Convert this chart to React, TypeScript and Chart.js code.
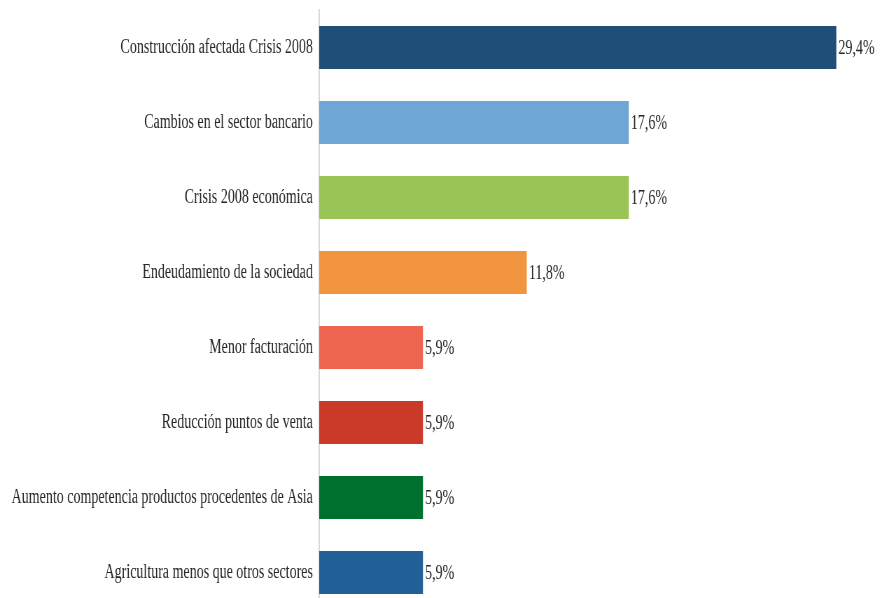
import React, { useEffect, useRef } from "react";
import { Chart, registerables } from "chart.js";

Chart.register(...registerables);

const categories = [
  "Construcción afectada Crisis 2008",
  "Cambios en el sector bancario",
  "Crisis 2008 económica",
  "Endeudamiento de la sociedad",
  "Menor facturación",
  "Reducción puntos de venta",
  "Aumento competencia productos procedentes de Asia",
  "Agricultura menos que otros sectores",
];

const values = [29.4, 17.6, 17.6, 11.8, 5.9, 5.9, 5.9, 5.9];

const barColors = [
  "#1f4e79",
  "#6fa6d5",
  "#9bc456",
  "#f29540",
  "#ee6650",
  "#cb3a29",
  "#00702f",
  "#215f97",
];

const SCALE_X = 0.7;
const INNER_W = 1264;
const INNER_H = 612;

const valueLabelPlugin = {
  id: "valueLabels",
  afterDatasetsDraw(chart: any) {
    const ctx = chart.ctx;
    const meta = chart.getDatasetMeta(0);
    ctx.save();
    ctx.font = "20px 'Liberation Serif'";
    ctx.fillStyle = "#262626";
    ctx.textAlign = "left";
    ctx.textBaseline = "middle";
    meta.data.forEach((bar: any, i: number) => {
      const txt = values[i].toFixed(1).replace(".", ",") + "%";
      ctx.fillText(txt, bar.x + 3, bar.y + 1);
    });
    ctx.restore();
  },
};

export default function App() {
  const ref = useRef<HTMLCanvasElement | null>(null);
  useEffect(() => {
    if (!ref.current) return;
    const chart = new Chart(ref.current, {
      type: "bar",
      data: {
        labels: categories,
        datasets: [
          {
            data: values,
            backgroundColor: barColors,
            borderWidth: 0,
            barPercentage: 0.573,
            categoryPercentage: 1,
          },
        ],
      },
      options: {
        indexAxis: "y",
        animation: false,
        responsive: true,
        maintainAspectRatio: false,
        layout: { padding: { top: 10, bottom: 2, left: 0, right: 29 } },
        plugins: {
          legend: { display: false },
          tooltip: { enabled: false },
        },
        scales: {
          x: {
            display: false,
            min: 0,
            max: 31,
          },
          y: {
            afterFit(scale: any) {
              scale.width = 456;
              scale.paddingTop = 0;
              scale.paddingBottom = 0;
            },
            grid: { display: false, drawTicks: false },
            border: { display: true, color: "#d9d9d9", width: 2 },
            ticks: {
              padding: 9,
              color: "#262626",
              font: { family: "'Liberation Serif'", size: 20 },
            },
          },
        },
      },
      plugins: [valueLabelPlugin],
    });
    return () => chart.destroy();
  }, []);

  return (
    <div
      style={{
        position: "fixed",
        left: 0,
        top: 0,
        width: 885,
        height: 598,
        overflow: "hidden",
        background: "#fff",
      }}
    >
      <div
        style={{
          width: INNER_W,
          height: INNER_H,
          transform: `scaleX(${SCALE_X})`,
          transformOrigin: "0 0",
          position: "relative",
        }}
      >
        <canvas ref={ref} />
      </div>
    </div>
  );
}
